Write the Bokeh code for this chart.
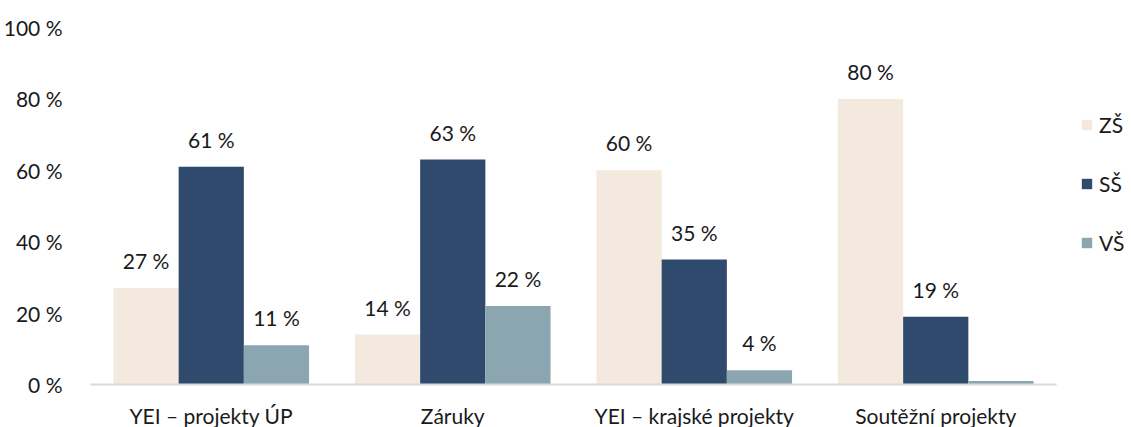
from bokeh.plotting import figure
from bokeh.models import ColumnDataSource, FactorRange, Legend, LegendItem, FixedTicker, CustomJSTickFormatter, LabelSet
from bokeh.transform import dodge
from bokeh.core.properties import value
from bokeh.embed import file_html
from bokeh.resources import INLINE

categories = ["YEI – projekty ÚP", "Záruky", "YEI – krajské projekty", "Soutěžní projekty"]
series = ["ZŠ", "SŠ", "VŠ"]
zs = [27, 14, 60, 80]
ss = [61, 63, 35, 19]
vs = [11, 22, 4, 1]
vs_labels = ["11 %", "22 %", "4 %", ""]
y_ticks = [0, 20, 40, 60, 80, 100]

colors = ["#F3E9DE", "#2F4A6D", "#8CA6B1"]
FONT = "Lato"
FS = "21px"

src = ColumnDataSource(dict(
    cat=categories, zs=zs, ss=ss, vs=vs,
    zs_lab=[f"{v} %" for v in zs],
    ss_lab=[f"{v} %" for v in ss],
    vs_lab=vs_labels,
))

p = figure(frame_width=966, frame_height=357,
           x_range=FactorRange(factors=categories), y_range=(0, 100),
           output_backend="svg", toolbar_location=None,
           min_border_left=86, min_border_right=0, min_border_top=27, min_border_bottom=30)

w = 0.27
r1 = p.vbar(x=dodge("cat", -w, range=p.x_range), top="zs", width=w, source=src, color=colors[0], line_color=None)
r2 = p.vbar(x=dodge("cat", 0, range=p.x_range), top="ss", width=w, source=src, color=colors[1], line_color=None)
r3 = p.vbar(x=dodge("cat", w, range=p.x_range), top="vs", width=w, source=src, color=colors[2], line_color=None)

for off, col in [(-w, "zs"), (0, "ss"), (w, "vs")]:
    ls = LabelSet(x=dodge("cat", off, range=p.x_range), y=col, text=col + "_lab", source=src,
                  text_align="center", text_baseline="bottom", y_offset=15,
                  text_font=value(FONT), text_font_size=FS, text_color="#1a1a1a")
    p.add_layout(ls)

p.xgrid.visible = False
p.ygrid.visible = False
p.outline_line_color = None

p.yaxis.ticker = FixedTicker(ticks=y_ticks)
p.yaxis.formatter = CustomJSTickFormatter(code="return tick + ' %';")
p.yaxis.axis_line_color = None
p.yaxis.major_tick_line_color = None
p.yaxis.minor_tick_line_color = None
p.yaxis.major_label_standoff = 22
p.yaxis.major_label_text_font = FONT
p.yaxis.major_label_text_font_size = FS
p.yaxis.major_label_text_color = "#1a1a1a"

p.xaxis.axis_line_color = "#D9D9D9"
p.xaxis.axis_line_width = 2
p.xaxis.major_tick_line_color = None
p.xaxis.minor_tick_line_color = None
p.xaxis.major_label_standoff = 12
p.xaxis.major_label_text_font = FONT
p.xaxis.major_label_text_font_size = FS
p.xaxis.major_label_text_color = "#1a1a1a"

legend = Legend(items=[LegendItem(label=s, renderers=[r]) for s, r in zip(series, [r1, r2, r3])],
                location=(24, 129), spacing=34, glyph_width=13, glyph_height=13,
                label_height=20, label_standoff=6, padding=0, margin=0,
                border_line_color=None, background_fill_alpha=0,
                label_text_font=FONT, label_text_font_size=FS, label_text_color="#1a1a1a")
p.add_layout(legend, "right")

open("out.html", "w").write(file_html(p, INLINE))
